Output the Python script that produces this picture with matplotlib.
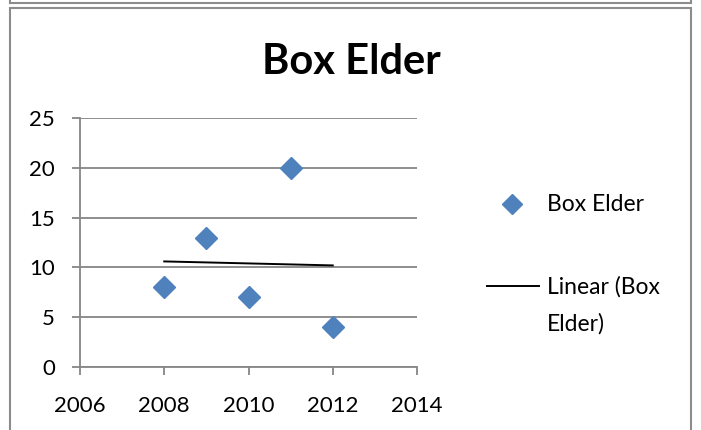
import matplotlib
matplotlib.use("Agg")
import matplotlib.pyplot as plt
import numpy as np
from matplotlib.patches import Rectangle
from matplotlib.lines import Line2D

plt.rcParams['font.family'] = ['Lato', 'DejaVu Sans']

years = [2008, 2009, 2010, 2011, 2012]
counts = [8, 13, 7, 20, 4]
x_ticks = [2006, 2008, 2010, 2012, 2014]
y_ticks = [0, 5, 10, 15, 20, 25]
series_name = "Box Elder"
trend_lines = ["Linear (Box", "Elder)"]

W, H = 701, 430
fig = plt.figure(figsize=(W / 100, H / 100), dpi=100)

def fx(px):
    return px / W

def fy(py):
    return 1 - py / H

grey = "#8c8c8c"
# frame of the chart above (its bottom edge) and this chart's frame
fig.add_artist(Line2D([fx(10), fx(691)], [fy(3), fy(3)], color=grey, lw=1.5))
fig.add_artist(Line2D([fx(10), fx(10)], [fy(0), fy(3)], color=grey, lw=1.5))
fig.add_artist(Line2D([fx(691), fx(691)], [fy(0), fy(3)], color=grey, lw=1.5))
fig.add_artist(Rectangle((fx(10), fy(440)), fx(681), fy(8) - fy(440),
                         fill=False, edgecolor=grey, lw=1.5))

ax = fig.add_axes([fx(80), fy(367), fx(417) - fx(80), fy(118) - fy(367)])
ax.set_xlim(2006, 2014)
ax.set_ylim(0, 25)
ax.set_xticks(x_ticks)
ax.set_yticks(y_ticks)
ax.set_xticklabels([str(v) for v in x_ticks])
ax.grid(axis='y', color="#868686", lw=1.3)
ax.set_axisbelow(True)
for s in ['top', 'right']:
    ax.spines[s].set_visible(False)
for s in ['left', 'bottom']:
    ax.spines[s].set_color("#868686")
    ax.spines[s].set_linewidth(1.3)
ax.tick_params(axis='both', direction='out', length=6, width=1.3,
               color="#868686", labelsize=16)
ax.tick_params(axis='y', pad=12)
ax.tick_params(axis='x', pad=15)

# linear least-squares trend
coef = np.polyfit(years, counts, 1)
xt = np.array([years[0], years[-1]])
ax.plot(xt, np.polyval(coef, xt), color='black', lw=1.4, zorder=2)
ax.plot(years, counts, linestyle='none', marker='D', markersize=11,
        color="#4F81BD", markeredgecolor="#4F81BD", zorder=3)
ax.set_clip_on(False)

fig.text(fx(351), fy(62), series_name, ha='center', va='center',
         fontsize=30, fontweight='bold')

# legend
fig.add_artist(Line2D([fx(512)], [fy(204)], marker='D', markersize=10,
                      color="#4F81BD", linestyle='none'))
fig.text(fx(547), fy(205), series_name, ha='left', va='center', fontsize=16.5)
fig.add_artist(Line2D([fx(487), fx(539)], [fy(286), fy(286)], color='black', lw=1.4))
fig.text(fx(547), fy(287), trend_lines[0], ha='left', va='center', fontsize=16.5)
fig.text(fx(547), fy(324), trend_lines[1], ha='left', va='center', fontsize=16.5)

fig.savefig("out.png", dpi=100)
